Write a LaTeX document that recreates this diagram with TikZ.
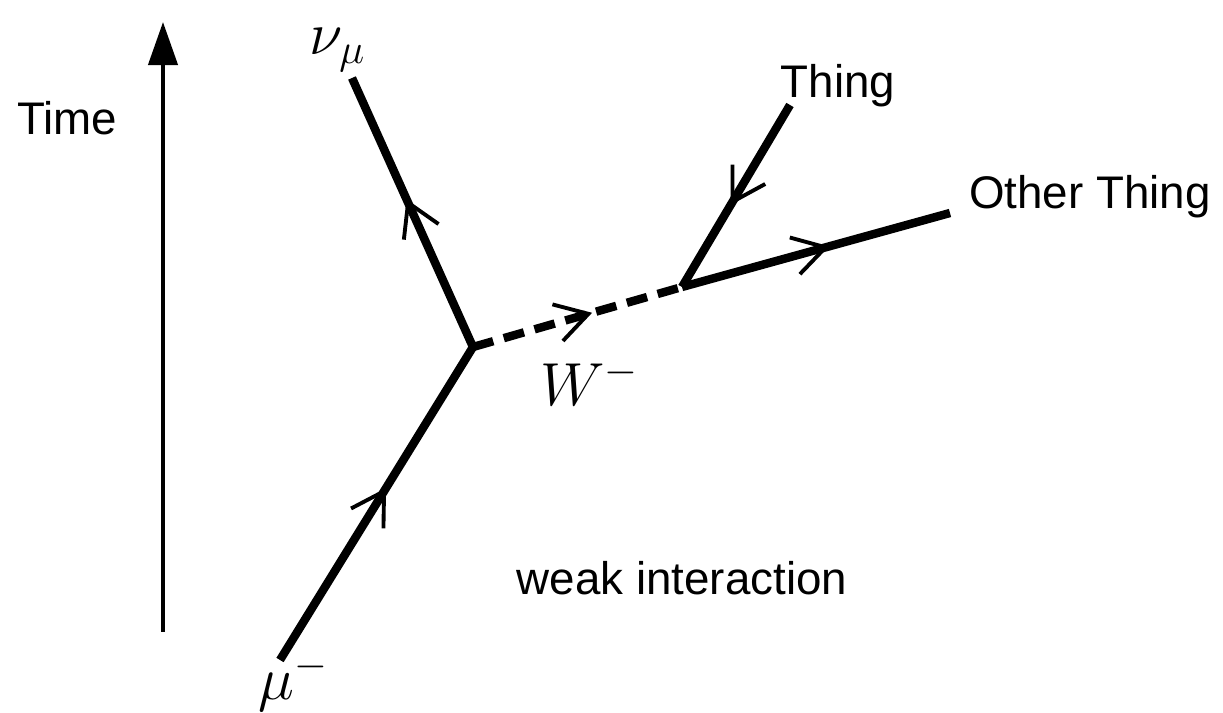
\documentclass[tikz,border=0pt]{standalone}
\usepackage{amsmath}
\usepackage{fontspec}
\setsansfont{Liberation Sans}
\usetikzlibrary{arrows.meta, decorations.markings}

\begin{document}
\begin{tikzpicture}[
    x=0.01cm, y=-0.01cm,
    midbarb/.style={postaction={decorate}, decoration={markings,
        mark=at position #1 with {\arrow{Straight Barb[length=3.2mm, width=3.8mm, line width=1.1pt]}}}},
    fermion/.style={line width=2.4pt, midbarb=0.55},
    boson/.style={line width=2.4pt, dash pattern=on 0.21cm off 0.11cm, midbarb=0.57},
    timeaxis/.style={-{Triangle[length=4.3mm, width=2.9mm]}, line width=1.2pt},
    word/.style={font=\sffamily\fontsize{13}{15}\selectfont, inner sep=0pt},
    sym/.style={font=\fontsize{16.5}{19}\selectfont, inner sep=0pt}
]
    \useasboundingbox (0,0) rectangle (1223,713);

    % time axis
    \coordinate (tbot) at (163,632);
    \coordinate (ttop) at (163,22);
    \draw[timeaxis] (tbot) -- (ttop);
    \node[word] (time) at (67,118) {Time};

    % vertices and line ends
    \coordinate (muend) at (280,660);
    \coordinate (vtxA) at (473,347);
    \coordinate (nuend) at (352,78);
    \coordinate (vtxB) at (682,287);
    \coordinate (thingend) at (790,105);
    \coordinate (otherend) at (950,213);

    \draw[fermion] (muend) -- (vtxA);
    \draw[fermion] (vtxA) -- (nuend);
    \draw[boson] (vtxA) -- (vtxB);
    \draw[fermion] (thingend) -- (vtxB);
    \draw[fermion] (vtxB) -- (otherend);

    \node[sym] (nulabel) at (338,50) {$\nu_\mu$};
    \node[sym] (mulabel) at (294,682) {$\mu^-$};
    \node[sym] (wlabel) at (590,382) {$W^-$};
    \node[word] (thing) at (838,86) {Thing};
    \node[word] (other) at (1090,197) {Other Thing};
    \node[word] (weak) at (682,578) {weak interaction};
\end{tikzpicture}
\end{document}
